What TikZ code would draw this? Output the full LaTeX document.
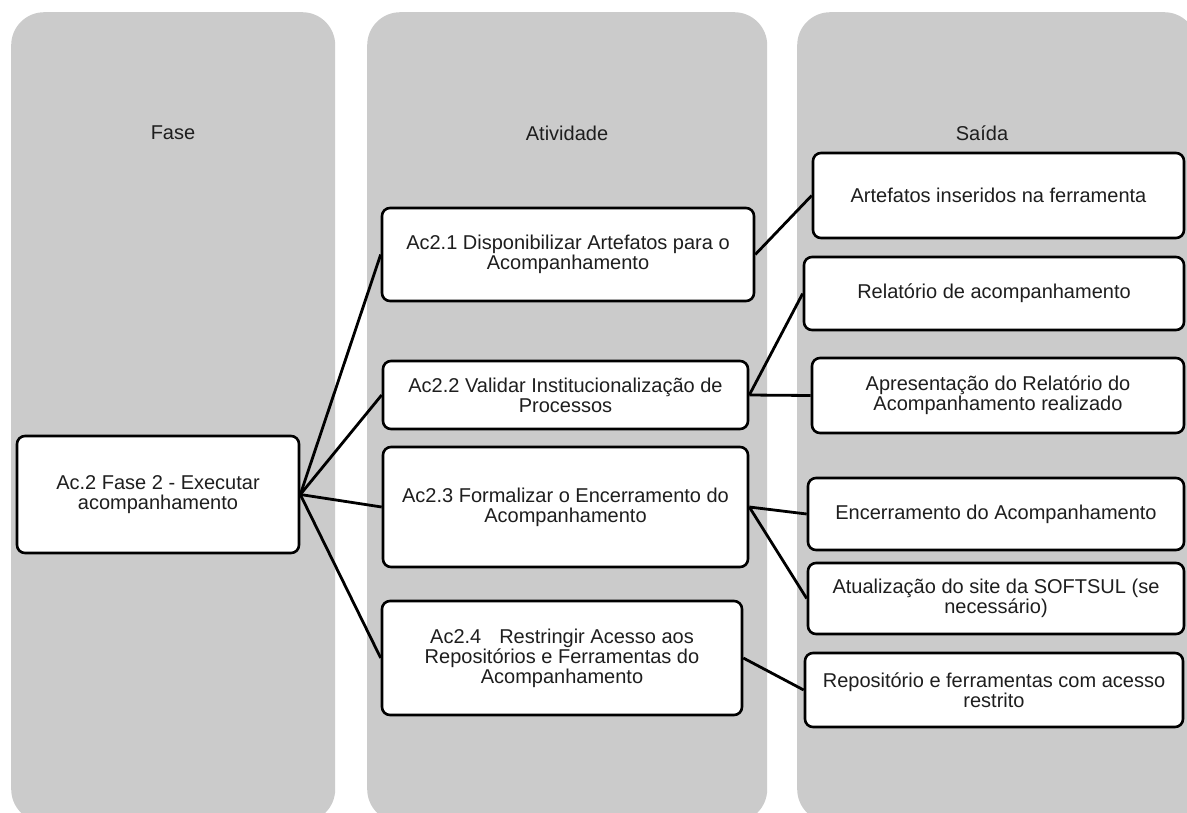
\documentclass[tikz,border=0pt]{standalone}
\usepackage{fontspec}
\setmainfont{Liberation Sans}
\definecolor{lane}{RGB}{203,203,203}
\definecolor{ink}{RGB}{30,30,30}
\begin{document}
\begin{tikzpicture}[x=1pt,y=-1pt,
  lanebox/.style={fill=lane,rounded corners=33pt,inner sep=0pt,anchor=north west},
  header/.style={text=ink,font=\fontsize{20}{20}\selectfont,inner sep=0pt},
  box/.style={draw=black,line width=2.6pt,rounded corners=8pt,fill=white,
    text=ink,font=\fontsize{20}{20}\selectfont,align=center,inner sep=0pt},
  link/.style={draw=black,line width=2.8pt}]
\useasboundingbox (0,0) rectangle (1187,812);

% swim lanes
\node[lanebox,minimum width=324pt,minimum height=810pt] (lfase) at (11,12) {};
\node[lanebox,minimum width=400pt,minimum height=810pt] (lativ) at (367,12) {};
\node[lanebox,minimum width=400pt,minimum height=810pt] (lsaida) at (797,12) {};

\node[header] (hfase) at (173,133) {Fase};
\node[header] (hativ) at (567,133) {Atividade};
\node[header] (hsaida) at (982,133) {Saída};

% phase
\node[box,minimum width=282pt,minimum height=117pt] (fase) at (158,494.5)
  {Ac.2 Fase 2 - Executar\\acompanhamento};

% activities
\node[box,minimum width=372pt,minimum height=93pt] (a1) at (568,254.5)
  {Ac2.1 Disponibilizar Artefatos para o\\Acompanhamento};
\node[box,minimum width=365pt,minimum height=68pt] (a2) at (565.5,395)
  {Ac2.2 Validar Institucionalização de\\Processos};
\node[box,minimum width=365pt,minimum height=120pt] (a3) at (565.5,507)
  {Ac2.3 Formalizar o Encerramento do\\Acompanhamento};
\node[box,minimum width=360pt,minimum height=114pt] (a4) at (562,658)
  {Ac2.4\hspace{0.9em}Restringir Acesso aos\\Repositórios e Ferramentas do\\Acompanhamento};

% outputs
\node[box,minimum width=371pt,minimum height=85pt] (s1) at (998.5,195.5)
  {Artefatos inseridos na ferramenta};
\node[box,minimum width=380pt,minimum height=73pt] (s2) at (994,293.5)
  {Relatório de acompanhamento};
\node[box,minimum width=372pt,minimum height=75pt] (s3) at (998,395.5)
  {Apresentação do Relatório do\\Acompanhamento realizado};
\node[box,minimum width=376pt,minimum height=72pt] (s4) at (996,514)
  {Encerramento do Acompanhamento};
\node[box,minimum width=376pt,minimum height=71pt] (s5) at (996,598.5)
  {Atualização do site da SOFTSUL (se\\necessário)};
\node[box,minimum width=378pt,minimum height=74pt] (s6) at (994,690)
  {Repositório e ferramentas com acesso\\restrito};

% connectors
\foreach \t in {a1,a2,a3,a4} \draw[link] (fase.east) -- (\t.west);
\draw[link] (a1.east) -- (s1.west);
\draw[link] (a2.east) -- (s2.west);
\draw[link] (a2.east) -- (s3.west);
\draw[link] (a3.east) -- (s4.west);
\draw[link] (a3.east) -- (s5.west);
\draw[link] (a4.east) -- (s6.west);
\end{tikzpicture}
\end{document}
